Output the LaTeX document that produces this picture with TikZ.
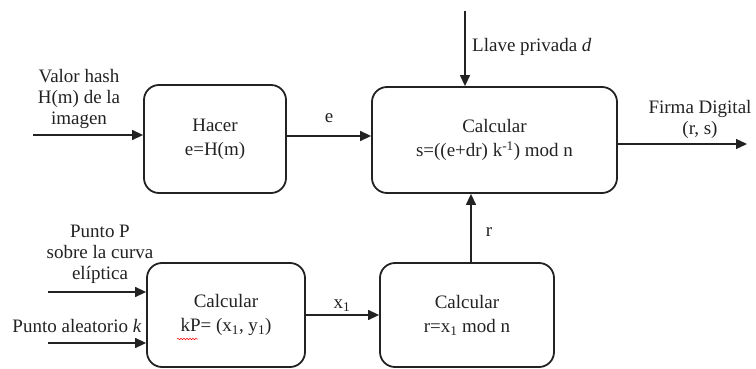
\documentclass[tikz,border=0pt]{standalone}
\usepackage{fontspec}
\setmainfont{Liberation Serif}
\usetikzlibrary{arrows.meta,decorations.pathmorphing}
\definecolor{ink}{HTML}{222222}
\begin{document}
\begin{tikzpicture}[x=1pt,y=-1pt,
  every node/.style={text=ink,font=\fontsize{19}{21}\selectfont,align=center,inner sep=0pt},
  blockbox/.style={draw=ink,line width=1.8pt,rounded corners=15pt,font=\fontsize{19}{24}\selectfont},
  arr/.style={draw=ink,line width=1.3pt,-{Triangle[length=11pt,width=10pt]}},
  lbl/.style={font=\fontsize{19}{21}\selectfont}]
\useasboundingbox (0,0) rectangle (756,369);

% processing blocks
\node[blockbox,minimum width=142pt,minimum height=108pt] (hacer) at (215,139) {Hacer\\e=H(m)};
\node[blockbox,minimum width=245pt,minimum height=106pt] (firma) at (494.5,140)
  {Calcular\\s=((e+dr) k\textsuperscript{-1}) mod n};
\node[blockbox,minimum width=158pt,minimum height=104pt] (kp) at (226,315)
  {Calcular\\kP= (x\textsubscript{1}, y\textsubscript{1})};
\node[blockbox,minimum width=174pt,minimum height=104pt] (rbox) at (467,315)
  {Calcular\\r=x\textsubscript{1} mod n};

% free ends of the input and output lines
\coordinate (hashin) at (33,135);
\coordinate (keyin) at (465,11);
\coordinate (sigout) at (747,144);
\coordinate (pin) at (48,292);
\coordinate (kin) at (48,343);

% connectors
\draw[arr] (hashin) -- (hashin -| hacer.west);
\draw[arr] ([yshift=3pt]hacer.east) -- ([yshift=3pt]hacer.east -| firma.west);
\draw[arr] (keyin) -- (keyin |- firma.north);
\draw[arr] (sigout -| firma.east) -- (sigout);
\draw[arr] ([xshift=4pt]rbox.north) -- ([xshift=4pt]rbox.north |- firma.south);
\draw[arr] (kp.east) -- (kp.east -| rbox.west);
\draw[arr] (pin) -- (pin -| kp.west);
\draw[arr] (kin) -- (kin -| kp.west);

% labels
\node[lbl] (lhash) at (79,99) {Valor hash\\H(m) de la\\imagen};
\node[lbl] (le) at (329,118) {e};
\node[lbl,anchor=west] (lkey) at (472,47) {Llave privada \textit{d}};
\node[lbl] (lsig) at (700,119) {Firma Digital\\(r, s)};
\node[lbl] (lr) at (489,232) {r};
\node[lbl] (lx) at (342,306) {x\textsubscript{1}};
\node[lbl] (lp) at (100,254) {Punto P\\sobre la curva\\elíptica};
\node[lbl] (lk) at (77,326) {Punto aleatorio \textit{k}};

% spell-check squiggle under kP
\draw[red,line width=0.5pt,decorate,decoration={snake,segment length=3pt,amplitude=0.7pt}] (177,339) -- (198,339);
\end{tikzpicture}
\end{document}
